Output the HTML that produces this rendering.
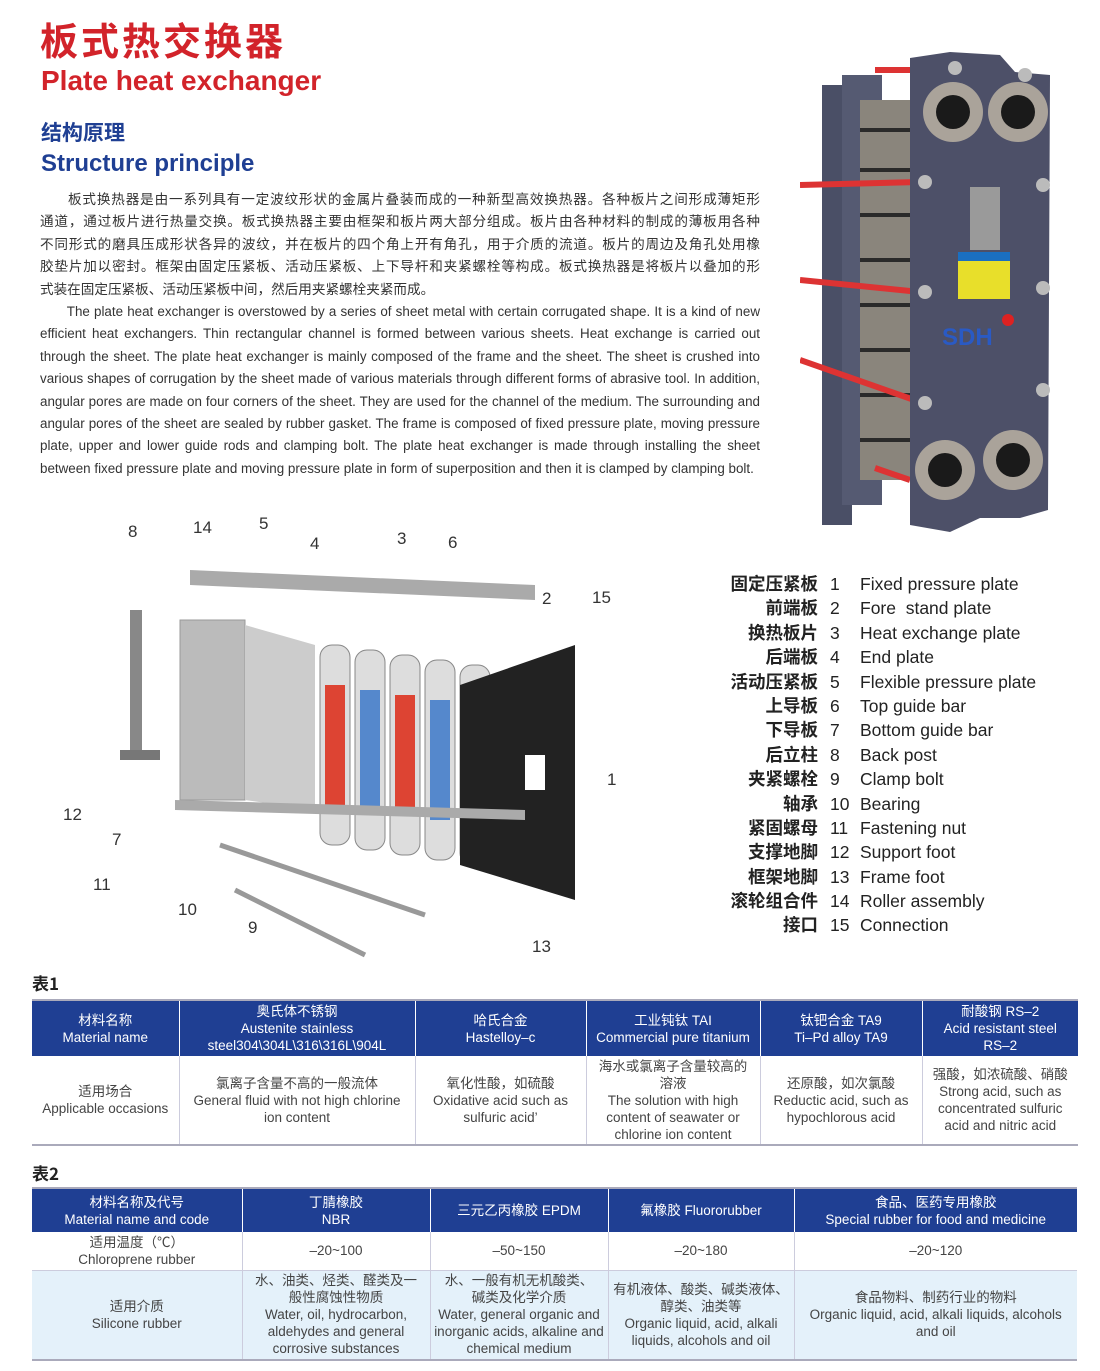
<!DOCTYPE html>
<html><head><meta charset="utf-8"><style>
*{margin:0;padding:0;box-sizing:border-box}
body{width:1100px;height:1371px;background:#fff;position:relative;overflow:hidden;font-family:"Liberation Sans","Noto Sans CJK SC",sans-serif;color:#333}
.a{position:absolute}
.p{font-size:13.4px;line-height:22.4px;text-align:justify;color:#333}
.cn{font-size:13.6px;font-family:"Noto Sans CJK SC",sans-serif}
.cn div{text-align:justify;text-align-last:justify;white-space:nowrap;height:22.4px}
.cn div.l{text-align-last:left}
table{border-collapse:collapse;position:absolute;font-size:13.5px;color:#444}
td{text-align:center;vertical-align:middle;line-height:17px;border-left:1px solid #ccd;padding:0 2px}
td:first-child{border-left:none}
tr.h td{background:#1f3f93;color:#fff;border-left:1px solid #fff}
tr.h td:first-child{border-left:none}
.leg{position:absolute;left:698px;top:572px;font-size:17.5px;line-height:24.4px;color:#222}
.leg div{position:relative;height:24.4px;width:380px}
.leg .c{position:absolute;left:0;font-weight:bold;font-family:"Noto Sans CJK SC",sans-serif;width:120px;text-align:right;white-space:nowrap}
.leg .n{position:absolute;left:132px;width:20px;text-align:left}
.leg .e{position:absolute;left:162px;white-space:nowrap}
</style></head><body>
<div class="a" style="left:40px;top:14px;font-size:38px;font-weight:bold;color:#d2232a;font-family:'Noto Sans CJK SC',sans-serif;letter-spacing:3px;line-height:50px">板式热交换器</div>
<div class="a" style="left:41px;top:65px;font-size:28px;font-weight:bold;color:#d2232a">Plate heat exchanger</div>
<div class="a" style="left:41px;top:117px;font-size:21px;font-weight:bold;color:#1f3f93;font-family:'Noto Sans CJK SC',sans-serif">结构原理</div>
<div class="a" style="left:41px;top:150px;font-size:24px;font-weight:bold;color:#1f3f93">Structure principle</div>
<div class="a p cn" style="left:40px;top:187px;width:720px">
<div style="padding-left:28px">板式换热器是由一系列具有一定波纹形状的金属片叠装而成的一种新型高效换热器。各种板片之间形成薄矩形</div>
<div>通道，通过板片进行热量交换。板式换热器主要由框架和板片两大部分组成。板片由各种材料的制成的薄板用各种</div>
<div>不同形式的磨具压成形状各异的波纹，并在板片的四个角上开有角孔，用于介质的流道。板片的周边及角孔处用橡</div>
<div>胶垫片加以密封。框架由固定压紧板、活动压紧板、上下导杆和夹紧螺栓等构成。板式换热器是将板片以叠加的形</div>
<div class="l">式装在固定压紧板、活动压紧板中间，然后用夹紧螺栓夹紧而成。</div>
</div>
<div class="a p" style="left:40px;top:301px;width:720px">&emsp;&emsp;The plate heat exchanger is overstowed by a series of sheet metal with certain corrugated shape. It is a kind of new efficient heat exchangers. Thin rectangular channel is formed between various sheets. Heat exchange is carried out through the sheet. The plate heat exchanger is mainly composed of the frame and the sheet. The sheet is crushed into various shapes of corrugation by the sheet made of various materials through different forms of abrasive tool. In addition, angular pores are made on four corners of the sheet. They are used for the channel of the medium. The surrounding and angular pores of the sheet are sealed by rubber gasket. The frame is composed of fixed pressure plate, moving pressure plate, upper and lower guide rods and clamping bolt. The plate heat exchanger is made through installing the sheet between fixed pressure plate and moving pressure plate in form of superposition and then it is clamped by clamping bolt.</div>

<svg class="a" style="left:800px;top:40px" width="280" height="500">
<rect x="22" y="45" width="30" height="440" fill="#4a4f66"/>
<rect x="42" y="35" width="40" height="430" fill="#555a72"/>
<rect x="60" y="60" width="55" height="380" fill="#8a857c"/>
<g stroke="#2a2a2a" stroke-width="4">
<line x1="60" y1="90" x2="115" y2="90"/><line x1="60" y1="130" x2="115" y2="130"/><line x1="60" y1="175" x2="115" y2="175"/><line x1="60" y1="220" x2="115" y2="220"/><line x1="60" y1="265" x2="115" y2="265"/><line x1="60" y1="310" x2="115" y2="310"/><line x1="60" y1="355" x2="115" y2="355"/><line x1="60" y1="400" x2="115" y2="400"/></g>
<g stroke="#d33" stroke-width="6"><line x1="0" y1="145" x2="120" y2="142"/><line x1="0" y1="240" x2="120" y2="252"/><line x1="0" y1="320" x2="120" y2="362"/><line x1="75" y1="30" x2="110" y2="30"/><line x1="75" y1="428" x2="110" y2="440"/></g>
<path d="M110 18 L150 12 L200 15 L215 32 L250 35 L248 470 L220 478 L180 478 L150 492 L110 485 Z" fill="#4d5068"/>
<circle cx="153" cy="72" r="30" fill="#aaa39a"/><circle cx="153" cy="72" r="17" fill="#1a1a1a"/>
<circle cx="218" cy="72" r="30" fill="#aaa39a"/><circle cx="218" cy="72" r="17" fill="#1a1a1a"/>
<circle cx="145" cy="430" r="30" fill="#aaa39a"/><circle cx="145" cy="430" r="17" fill="#1a1a1a"/>
<circle cx="213" cy="420" r="30" fill="#aaa39a"/><circle cx="213" cy="420" r="17" fill="#1a1a1a"/>
<rect x="170" y="147" width="30" height="63" fill="#9a9a9a"/>
<rect x="158" y="212" width="52" height="47" fill="#e8df2a"/><rect x="158" y="212" width="52" height="9" fill="#1a6fc1"/>
<text x="142" y="305" font-size="24" font-weight="bold" fill="#2a5ac4" font-family="Liberation Sans">SDH</text>
<circle cx="208" cy="280" r="6" fill="#d22"/>
<g fill="#bbb"><circle cx="125" cy="142" r="7"/><circle cx="125" cy="252" r="7"/><circle cx="125" cy="363" r="7"/><circle cx="243" cy="145" r="7"/><circle cx="243" cy="248" r="7"/><circle cx="243" cy="350" r="7"/><circle cx="155" cy="28" r="7"/><circle cx="225" cy="35" r="7"/></g>
</svg>

<svg class="a" style="left:55px;top:510px" width="600" height="450" font-family="Liberation Sans" font-size="17" fill="#333">
<rect x="75" y="100" width="12" height="150" fill="#888"/><rect x="65" y="240" width="40" height="10" fill="#777"/>
<polygon points="135,60 480,75 480,90 135,75" fill="#aaa"/>
<polygon points="125,110 190,110 190,290 125,290" fill="#bbb" stroke="#999"/>
<polygon points="190,115 260,135 260,300 190,290" fill="#ccc"/>
<g stroke="#888" fill="#ddd"><rect x="265" y="135" width="30" height="200" rx="12"/><rect x="300" y="140" width="30" height="200" rx="12"/><rect x="335" y="145" width="30" height="200" rx="12"/><rect x="370" y="150" width="30" height="200" rx="12"/><rect x="405" y="155" width="30" height="200" rx="12"/></g>
<rect x="270" y="175" width="20" height="120" fill="#d43"/><rect x="305" y="180" width="20" height="120" fill="#58c"/><rect x="340" y="185" width="20" height="120" fill="#d43"/><rect x="375" y="190" width="20" height="120" fill="#58c"/>
<polygon points="405,175 520,135 520,390 405,355" fill="#222"/>
<rect x="470" y="245" width="20" height="35" fill="#fff"/>
<polygon points="120,290 470,300 470,310 120,300" fill="#aaa"/>
<line x1="165" y1="335" x2="370" y2="405" stroke="#999" stroke-width="5"/>
<line x1="180" y1="380" x2="310" y2="445" stroke="#999" stroke-width="5"/>
<text x="73" y="27">8</text><text x="138" y="23">14</text><text x="204" y="19">5</text><text x="255" y="39">4</text><text x="342" y="34">3</text><text x="393" y="38">6</text><text x="487" y="94">2</text><text x="537" y="93">15</text><text x="552" y="275">1</text><text x="8" y="310">12</text><text x="57" y="335">7</text><text x="38" y="380">11</text><text x="123" y="405">10</text><text x="193" y="423">9</text><text x="477" y="442">13</text>
</svg>

<div class="leg">
<div><span class="c">固定压紧板</span><span class="n">1</span><span class="e">Fixed pressure plate</span></div>
<div><span class="c">前端板</span><span class="n">2</span><span class="e">Fore &nbsp;stand plate</span></div>
<div><span class="c">换热板片</span><span class="n">3</span><span class="e">Heat exchange plate</span></div>
<div><span class="c">后端板</span><span class="n">4</span><span class="e">End plate</span></div>
<div><span class="c">活动压紧板</span><span class="n">5</span><span class="e">Flexible pressure plate</span></div>
<div><span class="c">上导板</span><span class="n">6</span><span class="e">Top guide bar</span></div>
<div><span class="c">下导板</span><span class="n">7</span><span class="e">Bottom guide bar</span></div>
<div><span class="c">后立柱</span><span class="n">8</span><span class="e">Back post</span></div>
<div><span class="c">夹紧螺栓</span><span class="n">9</span><span class="e">Clamp bolt</span></div>
<div><span class="c">轴承</span><span class="n">10</span><span class="e">Bearing</span></div>
<div><span class="c">紧固螺母</span><span class="n">11</span><span class="e">Fastening nut</span></div>
<div><span class="c">支撑地脚</span><span class="n">12</span><span class="e">Support foot</span></div>
<div><span class="c">框架地脚</span><span class="n">13</span><span class="e">Frame foot</span></div>
<div><span class="c">滚轮组合件</span><span class="n">14</span><span class="e">Roller assembly</span></div>
<div><span class="c">接口</span><span class="n">15</span><span class="e">Connection</span></div>
</div>

<div class="a" style="left:32px;top:970px;font-size:17px;font-weight:bold;color:#222;font-family:'Noto Sans CJK SC',sans-serif">表1</div>
<table style="left:32px;top:999px;width:1046px;border-top:2px solid #aab;border-bottom:2px solid #aab">
<tr class="h" style="height:56px"><td style="width:147px">材料名称<br>Material name</td><td style="width:236px">奥氏体不锈钢<br>Austenite stainless<br>steel304\304L\316\316L\904L</td><td style="width:171px">哈氏合金<br>Hastelloy–c</td><td style="width:174px">工业钝钛 TAI<br>Commercial pure titanium</td><td style="width:162px">钛钯合金 TA9<br>Ti–Pd alloy TA9</td><td>耐酸钢 RS–2<br>Acid resistant steel<br>RS–2</td></tr>
<tr style="height:89px"><td>适用场合<br>Applicable occasions</td><td>氯离子含量不高的一般流体<br>General fluid with not high chlorine<br>ion content</td><td>氧化性酸，如硫酸<br>Oxidative acid such as<br>sulfuric acid’</td><td>海水或氯离子含量较高的<br>溶液<br>The solution with high<br>content of seawater or<br>chlorine ion content</td><td>还原酸，如次氯酸<br>Reductic acid, such as<br>hypochlorous acid</td><td>强酸，如浓硫酸、硝酸<br>Strong acid, such as<br>concentrated sulfuric<br>acid and nitric acid</td></tr>
</table>

<div class="a" style="left:32px;top:1160px;font-size:17px;font-weight:bold;color:#222;font-family:'Noto Sans CJK SC',sans-serif">表2</div>
<table style="left:32px;top:1187px;width:1045px;border-top:2px solid #aab;border-bottom:2px solid #aab">
<tr class="h" style="height:44px"><td style="width:210px">材料名称及代号<br>Material name and code</td><td style="width:188px">丁腈橡胶<br>NBR</td><td style="width:178px">三元乙丙橡胶 EPDM</td><td style="width:186px">氟橡胶 Fluororubber</td><td>食品、医药专用橡胶<br>Special rubber for food and medicine</td></tr>
<tr style="height:38px;border-bottom:1px solid #ccd"><td>适用温度（℃）<br>Chloroprene rubber</td><td>–20~100</td><td>–50~150</td><td>–20~180</td><td>–20~120</td></tr>
<tr style="height:90px;background:#e4f1fa"><td>适用介质<br>Silicone rubber</td><td>水、油类、烃类、醛类及一<br>般性腐蚀性物质<br>Water, oil, hydrocarbon,<br>aldehydes and general<br>corrosive substances</td><td>水、一般有机无机酸类、<br>碱类及化学介质<br>Water, general organic and<br>inorganic acids, alkaline and<br>chemical medium</td><td>有机液体、酸类、碱类液体、<br>醇类、油类等<br>Organic liquid, acid, alkali<br>liquids, alcohols and oil</td><td>食品物料、制药行业的物料<br>Organic liquid, acid, alkali liquids, alcohols<br>and oil</td></tr>
</table>
</body></html>
